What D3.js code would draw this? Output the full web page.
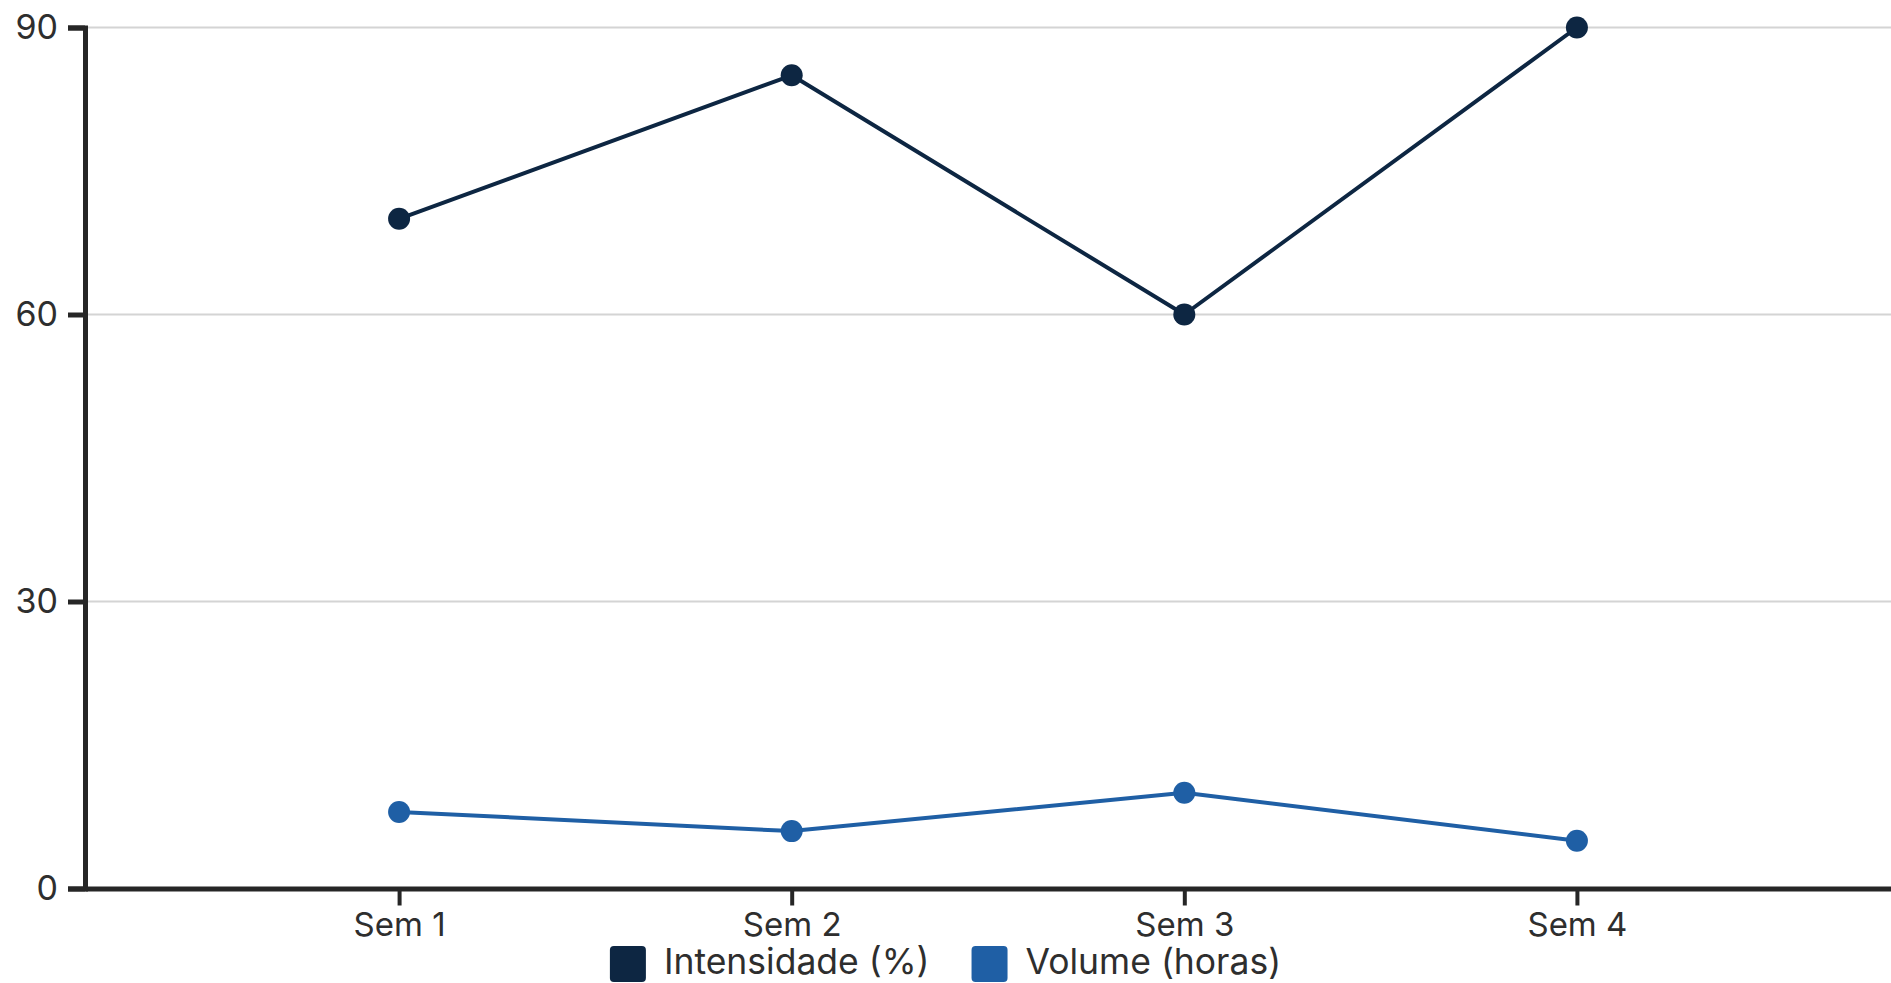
<!DOCTYPE html>
<html>
<head>
<meta charset="utf-8">
<script src="https://cdn.jsdelivr.net/npm/d3@7"></script>
<style>
  html, body { margin: 0; padding: 0; background: #fff; }
  svg { display: block; font-family: Inter, "Noto Sans", sans-serif; }
</style>
</head>
<body>
<svg id="chart" width="1891" height="983"></svg>
<script>
// Weekly training data
const weeks = ["Sem 1", "Sem 2", "Sem 3", "Sem 4"];
const intensidade = [70, 85, 60, 90];
const volume = [8, 6, 10, 5];
const yTicks = [0, 30, 60, 90];
const seriesNames = ["Intensidade (%)", "Volume (horas)"];
const seriesColors = ["#0d2642", "#1f5fa5"];

const W = 1891, H = 983;
const margin = { top: 27.5, right: 0, bottom: 94.5, left: 85 };
const svg = d3.select("#chart");

const x = d3.scalePoint()
  .domain(weeks)
  .range([margin.left, W - margin.right])
  .padding(0.8);

const y = d3.scaleLinear()
  .domain([0, 90])
  .range([H - margin.bottom, margin.top]);

const fontSize = 33;
const legendFontSize = 35.5;
const axisColor = "#262626";
const textColor = "#2e2e2e";

// horizontal grid
svg.append("g")
  .selectAll("line")
  .data(yTicks.filter(d => d > 0))
  .join("line")
  .attr("x1", margin.left)
  .attr("x2", W - margin.right)
  .attr("y1", d => y(d))
  .attr("y2", d => y(d))
  .attr("stroke", "#d4d4d4")
  .attr("stroke-width", 2);

// y axis
const yAxis = svg.append("g")
  .attr("transform", `translate(${margin.left},0)`)
  .call(d3.axisLeft(y).tickValues(yTicks).tickSize(17).tickPadding(10));
yAxis.select(".domain").attr("stroke", axisColor).attr("stroke-width", 5);
yAxis.selectAll(".tick line").attr("stroke", axisColor).attr("stroke-width", 5);
yAxis.selectAll(".tick text")
  .attr("fill", textColor)
  .style("font-size", "34px")
  .style("font-family", "Inter, sans-serif");

// x axis
const xAxis = svg.append("g")
  .attr("transform", `translate(0,${y(0)})`)
  .call(d3.axisBottom(x).tickSize(17).tickSizeOuter(0));
xAxis.select(".domain").attr("stroke", axisColor).attr("stroke-width", 5);
xAxis.selectAll(".tick line").attr("stroke", axisColor).attr("stroke-width", 4);
xAxis.selectAll(".tick text")
  .attr("fill", textColor)
  .attr("y", 47)
  .attr("dy", 0)
  .style("font-size", fontSize + "px")
  .style("font-family", "Inter, sans-serif");

// series lines and points
const series = [intensidade, volume];
const line = d3.line().x((d, i) => x(weeks[i])).y(d => y(d));

series.forEach((vals, si) => {
  const g = svg.append("g");
  g.append("path")
    .datum(vals)
    .attr("fill", "none")
    .attr("stroke", seriesColors[si])
    .attr("stroke-width", 4)
    .attr("stroke-linejoin", "round")
    .attr("d", line);
  g.selectAll("circle")
    .data(vals)
    .join("circle")
    .attr("cx", (d, i) => x(weeks[i]))
    .attr("cy", d => y(d))
    .attr("r", 11)
    .attr("fill", seriesColors[si]);
});

// legend, centered below the x axis
const legend = svg.append("g");
const sq = 36, gapText = 18, gapItem = 42;
let cursor = 0;
seriesNames.forEach((name, i) => {
  const item = legend.append("g").attr("transform", `translate(${cursor},0)`);
  item.append("rect")
    .attr("x", 0).attr("y", 946)
    .attr("width", sq).attr("height", sq)
    .attr("rx", 4)
    .attr("fill", seriesColors[i]);
  const t = item.append("text")
    .attr("x", sq + gapText)
    .attr("y", 974)
    .attr("fill", textColor)
    .style("font-size", legendFontSize + "px")
    .text(name);
  cursor += sq + gapText + t.node().getComputedTextLength() + gapItem;
});
const legendWidth = cursor - gapItem;
legend.attr("transform", `translate(${(W - legendWidth) / 2},0)`);
</script>
</body>
</html>
